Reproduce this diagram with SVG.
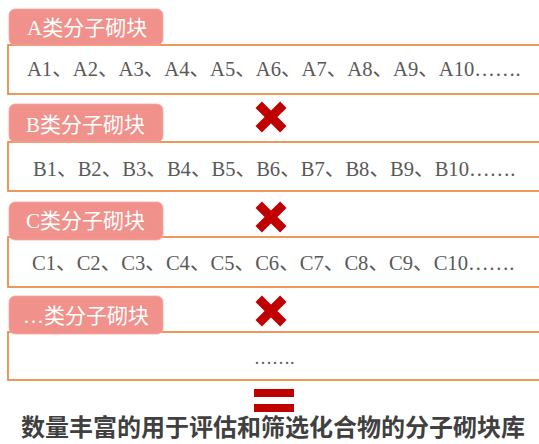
<svg xmlns="http://www.w3.org/2000/svg" width="539" height="444" viewBox="0 0 539 444">
<style>
.box{fill:#fff;stroke:#ED7D31;stroke-width:1.6}
.tab{fill:#F1918B;stroke:#F4A7A1;stroke-width:0.8}
.tabt{font-family:"Liberation Serif","Noto Sans CJK SC",serif;font-size:21px;fill:#fff}
.row{font-family:"Liberation Serif","Noto Sans CJK SC",serif;font-size:20.6px;fill:#595959}
.cross{stroke:#C00000;stroke-width:9;fill:none}
.eq{fill:#C00000}
.title{font-family:"Noto Sans CJK SC","Noto Sans CJK JP",sans-serif;font-size:24px;font-weight:bold;fill:#404040}
</style>
<defs>
<path id="x" class="cross" d="M-12.3,-12.3L12.3,12.3M12.3,-12.3L-12.3,12.3"/>
</defs>
<rect width="539" height="444" fill="#fff"/>
<g id="groupA">
<rect class="box" x="8" y="45" width="545" height="49"/>
<rect class="tab" x="9" y="9" width="154" height="36" rx="6"/>
<text class="tabt" x="27" y="35">A类分子砌块</text>
<text class="row" x="27" y="76">A1、A2、A3、A4、A5、A6、A7、A8、A9、A10…….</text>
</g>
<g id="groupB">
<rect class="box" x="8" y="142" width="545" height="49"/>
<rect class="tab" x="9" y="104" width="154" height="38" rx="6"/>
<text class="tabt" x="26" y="132">B类分子砌块</text>
<text class="row" x="33" y="176">B1、B2、B3、B4、B5、B6、B7、B8、B9、B10…….</text>
<use href="#x" x="271" y="117"/>
</g>
<g id="groupC">
<rect class="box" x="8" y="237" width="545" height="50"/>
<rect class="tab" x="9" y="202" width="154" height="38" rx="6"/>
<text class="tabt" x="26" y="228">C类分子砌块</text>
<text class="row" x="32" y="270">C1、C2、C3、C4、C5、C6、C7、C8、C9、C10…….</text>
<use href="#x" x="271" y="217"/>
</g>
<g id="groupD">
<rect class="box" x="8" y="332" width="545" height="48"/>
<rect class="tab" x="9" y="296" width="154" height="38" rx="6"/>
<text class="tabt" x="23" y="323">…类分子砌块</text>
<text class="row" x="254" y="364" style="font-size:18px">…….</text>
<use href="#x" x="271" y="311"/>
</g>
<g id="connectors">
<rect class="eq" x="254" y="389" width="40" height="8"/>
<rect class="eq" x="254" y="404" width="40" height="8"/>
</g>
<g id="result">
<text class="title" x="21" y="436">数量丰富的用于评估和筛选化合物的分子砌块库</text>
</g>
</svg>
